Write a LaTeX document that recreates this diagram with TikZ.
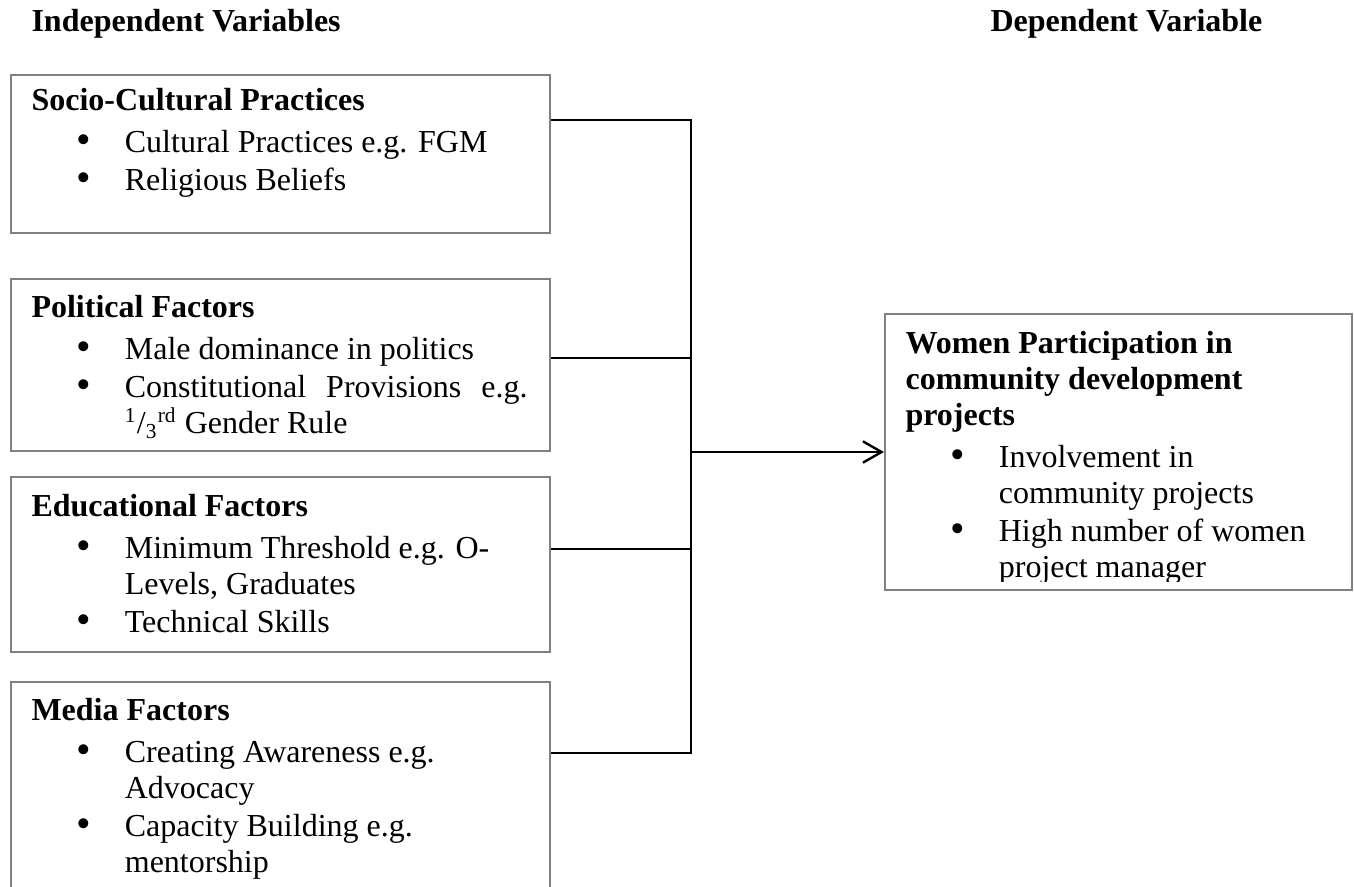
\documentclass[tikz,border=0pt]{standalone}
\usepackage{fontspec}
\usepackage{graphicx}
\setmainfont{Liberation Serif}
\usetikzlibrary{arrows.meta,positioning}
\newcommand{\fhead}[1]{\textbf{#1}\par\vspace{1.85pt}}
\newcommand{\fitem}[1]{\par\vspace{0.75pt}\hspace*{17pt}\makebox[18pt][l]{\raisebox{-0.3pt}{\scalebox{1.3}{\textbullet}}}#1}
\newcommand{\fcont}[1]{\par\hspace*{35pt}#1}
\tikzset{
  factor/.style={draw=black!50, line width=0.75pt, anchor=north west, inner sep=0pt},
  factortext/.style={anchor=base west, inner sep=0pt, font=\fontsize{12pt}{13.5pt}\selectfont},
  headtext/.style={anchor=base west, inner sep=0pt, font=\fontsize{12pt}{13.5pt}\selectfont\bfseries},
  link/.style={line width=0.9pt},
}

\begin{document}
\begin{tikzpicture}[x=0.375pt,y=-0.375pt]
			%%%%% START %%%%%
			\useasboundingbox (0,0) rectangle (1354,886);
			
			\node[headtext] (indep) at (31,31) {Independent Variables};
			\node[headtext] (dep) at (990,31) {Dependent Variable};
			
			\node[factor, minimum width=202.1pt, minimum height=59.25pt] (socio) at (10,74) {};
			\node[factor, minimum width=202.1pt, minimum height=64.5pt] (political) at (10,278) {};
			\node[factor, minimum width=202.1pt, minimum height=65.6pt] (education) at (10,476) {};
			\node[factor, minimum width=202.1pt, minimum height=78.75pt] (media) at (10,681) {};
			\node[factor, minimum width=175.1pt, minimum height=103.5pt] (women) at (884,313) {};
			
			\node[factortext] (sociotxt) at (31,110) {\parbox[t]{200pt}{%
				\fhead{Socio-Cultural Practices}%
				\fitem{Cultural Practices e.g. FGM}%
				\fitem{Religious Beliefs}}};
			\node[factortext] (politicaltxt) at (31,317) {\parbox[t]{200pt}{%
				\fhead{Political Factors}%
				\fitem{Male dominance in politics}%
				\fitem{\makebox[151pt][s]{Constitutional Provisions e.g.}}%
				\fcont{\textsuperscript{1}/\textsubscript{3}\textsuperscript{rd} Gender Rule}}};
			\node[factortext] (educationtxt) at (31,516) {\parbox[t]{200pt}{%
				\fhead{Educational Factors}%
				\fitem{Minimum Threshold e.g. O-}%
				\fcont{Levels, Graduates}%
				\fitem{Technical Skills}}};
			\node[factortext] (mediatxt) at (31,720) {\parbox[t]{200pt}{%
				\fhead{Media Factors}%
				\fitem{Creating Awareness e.g.}%
				\fcont{Advocacy}%
				\fitem{Capacity Building e.g.}%
				\fcont{mentorship}}};
			
			\begin{scope}
				\clip (women.north west) rectangle ([yshift=3.4pt]women.south east);
				\node[factortext] (womentxt) at (905,353) {\parbox[t]{170pt}{%
					\fhead{Women Participation in\\community development\\projects}%
					\fitem{Involvement in}%
					\fcont{community projects}%
					\fitem{High number of women}%
					\fcont{project manager}}};
			\end{scope}
			
			% joins on the collecting line
			\coordinate (j1) at (691,120);
			\coordinate (j2) at (691,358);
			\coordinate (j3) at (691,549);
			\coordinate (j4) at (691,753);
			\coordinate (jm) at (691,452);
			
			\draw[link] (socio.east |- j1) -| (j4) -- (media.east |- j4);
			\draw[link] (political.east |- j2) -- (j2);
			\draw[link] (education.east |- j3) -- (j3);
			\draw[link, -{Straight Barb[length=7pt,width=8pt]}] (jm) -- (women.west |- jm);
			
			%%%%% END %%%%%
		\end{tikzpicture}
\end{document}
